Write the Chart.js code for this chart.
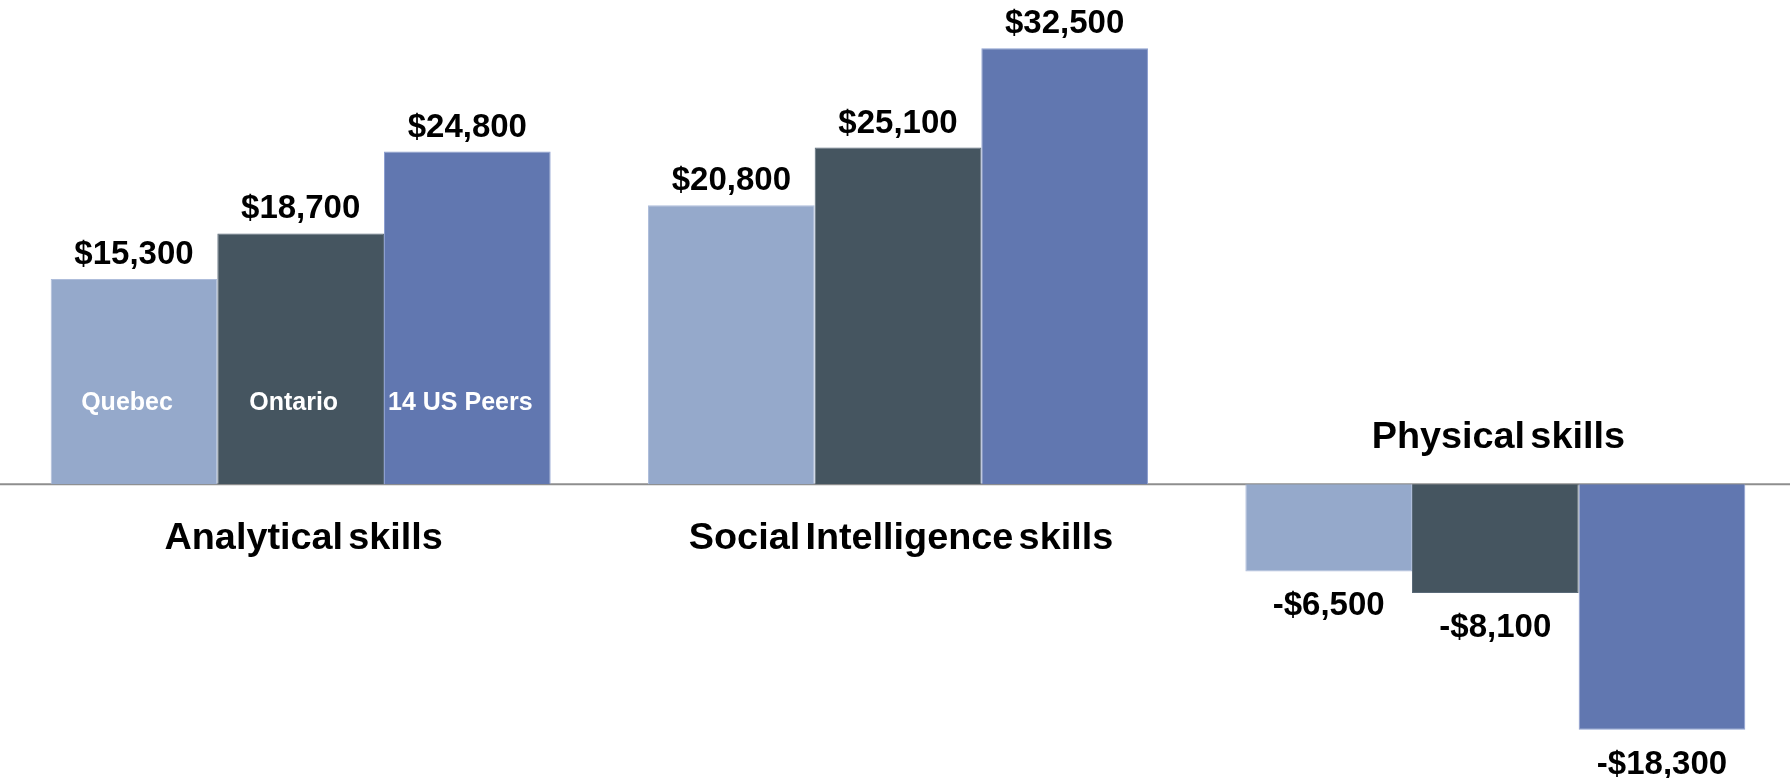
<!DOCTYPE html>
<html>
<head>
<meta charset="utf-8">
<script src="https://cdn.jsdelivr.net/npm/chart.js@4"></script>
<style>
  html, body { margin: 0; padding: 0; background: #ffffff; overflow: hidden; }
  canvas { display: block; }
</style>
</head>
<body>
<canvas id="graficoSkills" width="1794" height="778"></canvas>
<script>
// wage premium by skill group
const categories = ['Analytical skills', 'Social Intelligence skills', 'Physical skills'];
const seriesNames = ['Quebec', 'Ontario', '14 US Peers'];
const quebec = [15300, 20800, -6500];
const ontario = [18700, 25100, -8100];
const usPeers = [24800, 32500, -18300];

const fontFamily = '"Liberation Sans", Arial, sans-serif';

function money(v) {
    return (v < 0 ? '-' : '') + '$' + Math.abs(v).toLocaleString('en-US');
}

// zero line, value labels, series names and category names
const labelsPlugin = {
    id: 'labels',
    beforeDatasetsDraw(chart) {
        const ctx = chart.ctx;
        const y0 = chart.scales.y.getPixelForValue(0);
        ctx.save();
        ctx.strokeStyle = '#8e8e8e';
        ctx.lineWidth = 2;
        ctx.beginPath();
        ctx.moveTo(0, y0);
        ctx.lineTo(chart.width, y0);
        ctx.stroke();
        ctx.restore();
    },
    afterDatasetsDraw(chart) {
        const ctx = chart.ctx;
        const xScale = chart.scales.x;
        const yScale = chart.scales.y;
        const y0 = yScale.getPixelForValue(0);
        ctx.save();
        ctx.textAlign = 'center';
        ctx.textBaseline = 'alphabetic';

        chart.data.datasets.forEach((ds, i) => {
            const meta = chart.getDatasetMeta(i);
            meta.data.forEach((bar, j) => {
                const v = ds.data[j];
                ctx.fillStyle = '#000000';
                ctx.font = 'bold 33px ' + fontFamily;
                if (v >= 0) {
                    ctx.fillText(money(v), bar.x, bar.y - 15);
                } else {
                    ctx.fillText(money(v), bar.x, bar.y + 44);
                }
            });
            // series name inside the first group of bars
            const first = meta.data[0];
            ctx.fillStyle = '#ffffff';
            ctx.font = 'bold 25px ' + fontFamily;
            ctx.fillText(ds.label, first.x - 7, yScale.getPixelForValue(5500));
        });

        ctx.fillStyle = '#000000';
        ctx.font = 'bold 36px ' + fontFamily;
        ctx.wordSpacing = '-5px';
        categories.forEach((c, j) => {
            const cx = xScale.getPixelForValue(j) + 3;
            const allNeg = chart.data.datasets.every(ds => ds.data[j] < 0);
            const ty = allNeg ? y0 - 36 : y0 + 65;
            ctx.save();
            ctx.translate(cx, ty);
            ctx.scale(1.05, 1);
            ctx.fillText(c, 0, 0);
            ctx.restore();
        });
        ctx.restore();
    }
};

const ctxSkills = document.getElementById('graficoSkills').getContext('2d');
const graficoSkills = new Chart(ctxSkills, {
    type: 'bar',
    data: {
        labels: categories,
        datasets: [
            { label: seriesNames[0], data: quebec, backgroundColor: '#95a9cb', borderColor: '#aebddb', borderWidth: 1 },
            { label: seriesNames[1], data: ontario, backgroundColor: '#455560', borderColor: '#5a6a78', borderWidth: 1 },
            { label: seriesNames[2], data: usPeers, backgroundColor: '#6177b0', borderColor: '#8d9fd0', borderWidth: 1 }
        ]
    },
    options: {
        responsive: false,
        animation: false,
        categoryPercentage: 0.837,
        barPercentage: 1,
        layout: { padding: { left: 2, right: 0, top: 0, bottom: 0 } },
        scales: {
            x: { display: false },
            y: { display: false, min: -21900, max: 36100 }
        },
        plugins: {
            legend: { display: false },
            title: { display: false },
            tooltip: { enabled: false }
        }
    },
    plugins: [labelsPlugin]
});
</script>
</body>
</html>
